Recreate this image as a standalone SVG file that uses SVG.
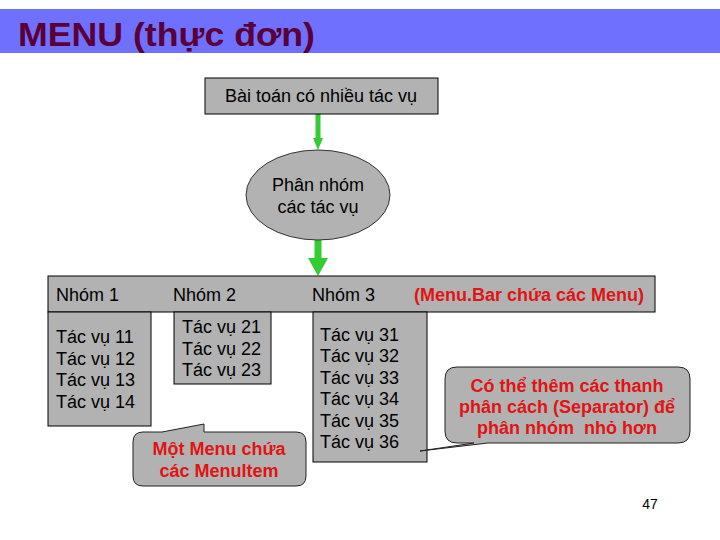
<svg xmlns="http://www.w3.org/2000/svg" width="720" height="540" viewBox="0 0 720 540">
<style>
.box{fill:#b2b2b2;stroke:#000;stroke-width:1}
.call{fill:#b2b2b2;stroke:#222;stroke-width:1}
.t{font-family:"Liberation Sans",Arial,sans-serif;font-size:18px;fill:#000}
.s{font-family:"Liberation Sans",Arial,sans-serif;font-size:18px;fill:#000}
.r{font-family:"Liberation Sans",Arial,sans-serif;font-size:18px;font-weight:bold;fill:#e01414;white-space:pre}
.arr{fill:#33cc33}
</style>
<rect x="0" y="0" width="720" height="540" fill="#fff"/>
<g id="title">
<rect x="0" y="9" width="720" height="44" fill="#7070ff"/>
<text x="18" y="46" font-family="Liberation Sans,Arial,sans-serif" font-size="34" font-weight="bold" fill="#5a0038" textLength="297" lengthAdjust="spacingAndGlyphs">MENU (thực đơn)</text>
</g>
<g id="connectors">
<rect class="arr" x="315.5" y="114" width="5" height="25"/>
<polygon class="arr" points="313,138 323,138 318,150"/>
<rect class="arr" x="314.5" y="240" width="7" height="19"/>
<polygon class="arr" points="308,258 328,258 318,276"/>
</g>
<g id="problem">
<rect class="box" x="205" y="78" width="233" height="36"/>
<text class="s" x="321" y="102" text-anchor="middle">Bài toán có nhiều tác vụ</text>
</g>
<g id="group-tasks">
<ellipse cx="318" cy="195" rx="72" ry="45" fill="#b2b2b2" stroke="#333" stroke-width="1"/>
<text class="s" x="318" y="191" text-anchor="middle">Phân nhóm</text>
<text class="s" x="318" y="213" text-anchor="middle">các tác vụ</text>
</g>
<g id="menubar">
<rect class="box" x="48" y="276" width="607" height="36"/>
<text class="t" x="56" y="301">Nhóm 1</text>
<text class="t" x="173" y="301">Nhóm 2</text>
<text class="t" x="312" y="301">Nhóm 3</text>
<text class="r" x="414" y="301">(Menu.Bar chứa các Menu)</text>
</g>
<g id="menu1">
<rect class="box" x="48" y="312" width="103" height="114"/>
<text class="t" x="56" y="343">Tác vụ 11</text>
<text class="t" x="56" y="365">Tác vụ 12</text>
<text class="t" x="56" y="386">Tác vụ 13</text>
<text class="t" x="56" y="408">Tác vụ 14</text>
</g>
<g id="menu2">
<rect class="box" x="174" y="312" width="97" height="72"/>
<text class="t" x="182" y="333">Tác vụ 21</text>
<text class="t" x="182" y="355">Tác vụ 22</text>
<text class="t" x="182" y="376">Tác vụ 23</text>
</g>
<g id="menu3">
<rect class="box" x="313" y="312" width="114" height="150"/>
<text class="t" x="320" y="341">Tác vụ 31</text>
<text class="t" x="320" y="362">Tác vụ 32</text>
<text class="t" x="320" y="384">Tác vụ 33</text>
<text class="t" x="320" y="405">Tác vụ 34</text>
<text class="t" x="320" y="427">Tác vụ 35</text>
<text class="t" x="320" y="448">Tác vụ 36</text>
</g>
<g id="callout-menu">
<path class="call" d="M143,432 L162,432 L204,424 L204,432 L296,432 Q306,432 306,442 L306,476 Q306,486 296,486 L143,486 Q133,486 133,476 L133,442 Q133,432 143,432 Z"/>
<text class="r" x="219" y="455" text-anchor="middle">Một Menu chứa</text>
<text class="r" x="219" y="477" text-anchor="middle">các MenuItem</text>
</g>
<g id="callout-separator">
<path class="call" d="M457,367 L678,367 Q690,367 690,379 L690,431 Q690,443 678,443 L488,443 L420,451 L474,443 L457,443 Q445,443 445,431 L445,379 Q445,367 457,367 Z"/>
<text class="r" x="567" y="392" text-anchor="middle">Có thể thêm các thanh</text>
<text class="r" x="567" y="413" text-anchor="middle">phân cách (Separator) để</text>
<text class="r" x="567" y="434" text-anchor="middle">phân nhóm  nhỏ hơn</text>
</g>
<text x="650" y="509" text-anchor="middle" font-family="Liberation Sans,Arial,sans-serif" font-size="14" fill="#000">47</text>
</svg>
